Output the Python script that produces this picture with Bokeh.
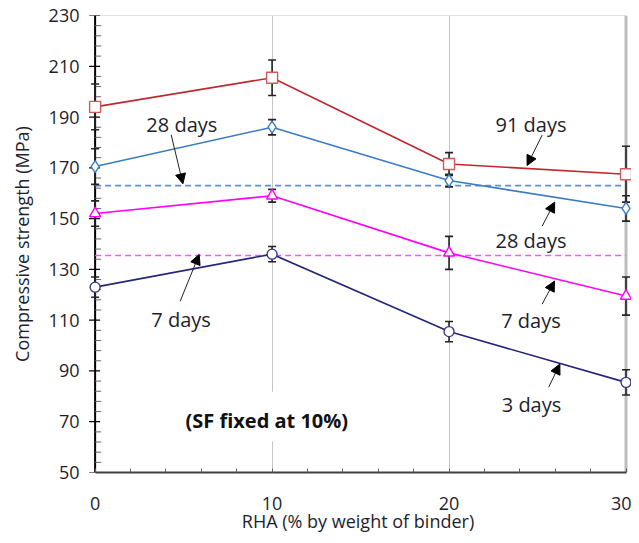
from bokeh.plotting import figure
from bokeh.models import Range1d, FixedTicker, Label, Arrow, NormalHead, Span, BoxAnnotation
from bokeh.embed import file_html
from bokeh.resources import INLINE

# ---- data ----
rha = [0, 10, 20, 30]
d91 = [194, 205.5, 171.5, 167.5]
d28 = [170.5, 186, 165, 154]
d7 = [152, 159, 136.5, 119.5]
d3 = [123, 136, 105.5, 85.5]
e91 = [9, 7, 4.5, 11]
e28 = [7, 3, 2.5, 5]
e7 = [5, 2.5, 6.5, 7.5]
e3 = [4, 3, 4, 5]
ref28 = 163
ref7 = 135.5
x_ticks = [0, 10, 20, 30]
x_minor = [2, 4, 6, 8, 12, 14, 16, 18, 22, 24, 26, 28]
y_ticks = [50, 70, 90, 110, 130, 150, 170, 190, 210, 230]
y_minor = [v for v in range(54, 230, 4) if v not in y_ticks]

# annotation texts and anchors
ann_text = ["28 days", "91 days", "28 days", "7 days", "7 days", "3 days"]
ann_x = [4.9, 24.63, 24.63, 4.86, 24.63, 24.66]
ann_y = [186.9, 186.9, 141.5, 110.4, 109.7, 76.8]
arr_x0 = [4.30, 25.26, 25.26, 4.81, 25.26, 25.63]
arr_y0 = [183.0, 182.9, 147.0, 117.5, 116.3, 83.6]
arr_x1 = [4.96, 24.41, 25.97, 5.88, 25.96, 26.26]
arr_y1 = [163.7, 170.9, 156.5, 135.9, 125.4, 92.7]

FONT = "Open Sans"
TXT = "#1e1e2e"

p = figure(width=631, height=535, x_range=Range1d(-0.6, 30.31), y_range=Range1d(50, 230),
           output_backend="svg", toolbar_location=None,
           min_border_left=84, min_border_right=0, min_border_top=15, min_border_bottom=61)
p.outline_line_color = None
p.background_fill_color = "white"
p.border_fill_color = "white"

# grid
p.ygrid.visible = False
p.xgrid.ticker = FixedTicker(ticks=[10, 20])
p.xgrid.grid_line_color = "#c4c4c4"
p.xgrid.grid_line_width = 1
p.add_layout(Span(location=30, dimension="height", line_color="#bdbdbd", line_width=3, level="underlay"))
p.line([rha[0], rha[-1]], [y_ticks[-1], y_ticks[-1]], line_color="#c4c4c4", line_width=1.2)

# x axis
xa = p.xaxis[0]
xa.ticker = FixedTicker(ticks=x_ticks, minor_ticks=x_minor)
xa.bounds = (0, 30)
xa.axis_line_color = "#404040"
xa.axis_line_width = 2
xa.major_tick_in = 4
xa.major_tick_out = 0
xa.minor_tick_in = 4
xa.minor_tick_out = 0
xa.major_tick_line_color = "#606060"
xa.minor_tick_line_color = "#606060"
xa.major_label_standoff = 24
xa.major_label_text_font = FONT
xa.major_label_text_font_size = "18px"
xa.major_label_text_color = TXT
xa.axis_label = "RHA (% by weight of binder)"
xa.axis_label_text_font = FONT
xa.axis_label_text_font_style = "normal"
xa.axis_label_text_font_size = "18px"
xa.axis_label_text_color = TXT
xa.axis_label_standoff = -4

# y axis (labels from bokeh axis, line and ticks drawn at x=0)
ya = p.yaxis[0]
ya.ticker = FixedTicker(ticks=y_ticks)
ya.axis_line_color = None
ya.major_tick_line_color = None
ya.minor_tick_line_color = None
ya.major_tick_in = 0
ya.major_tick_out = 0
ya.minor_tick_in = 0
ya.minor_tick_out = 0
ya.major_label_standoff = 5
ya.major_label_text_font = FONT
ya.major_label_text_font_size = "18px"
ya.major_label_text_color = TXT
ya.axis_label = "Compressive strength (MPa)"
ya.axis_label_text_font = FONT
ya.axis_label_text_font_style = "normal"
ya.axis_label_text_font_size = "18px"
ya.axis_label_text_color = TXT
ya.axis_label_standoff = 12

x0 = rha[0]
p.segment(x0=[x0], y0=[y_ticks[0]], x1=[x0], y1=[y_ticks[-1]], line_color="black", line_width=2)
p.segment(x0=[x0 - 0.34] * len(y_ticks), y0=y_ticks, x1=[x0 + 0.28] * len(y_ticks), y1=y_ticks,
          line_color="black", line_width=1.2)
p.segment(x0=[x0] * len(y_minor), y0=y_minor, x1=[x0 + 0.34] * len(y_minor), y1=y_minor,
          line_color="#666666", line_width=1)

# reference dashed lines
p.line([rha[0], rha[-1]], [ref28, ref28], line_color="#5b8fd9", line_width=1.6, line_dash="6 4")
p.line([rha[0], rha[-1]], [ref7, ref7], line_color="#ff55ff", line_width=1.6, line_dash="6 4")

series = [
    (d91, e91, "#c0282d", "#d05a5a", "square", 11),
    (d28, e28, "#3a7cc4", "#3a7cc4", "diamond", 12),
    (d7, e7, "#ff00ff", "#ff00ff", "triangle", 11),
    (d3, e3, "#25257a", "#3a3a8a", "circle", 10),
]

# error bars first (behind markers)
for ys, es, c, mc, m, s in series:
    lo = [y - e for y, e in zip(ys, es)]
    hi = [y + e for y, e in zip(ys, es)]
    p.segment(x0=rha, y0=lo, x1=rha, y1=hi, line_color="#222222", line_width=1.6)
    p.scatter(rha, lo, marker="dash", size=8, line_color="#222222", line_width=1.6)
    p.scatter(rha, hi, marker="dash", size=8, line_color="#222222", line_width=1.6)

for ys, es, c, mc, m, s in series:
    p.line(rha, ys, line_color=c, line_width=1.6)
    p.scatter(rha, ys, marker=m, size=s, fill_color="white", line_color=mc, line_width=1.4)

# annotations
for t, x, y in zip(ann_text, ann_x, ann_y):
    p.add_layout(Label(x=x, y=y, text=t, text_font=FONT, text_font_size="20px",
                       text_color=TXT, text_align="center", text_baseline="middle"))
for xs, ys_, xe, ye in zip(arr_x0, arr_y0, arr_x1, arr_y1):
    p.add_layout(Arrow(x_start=xs, y_start=ys_, x_end=xe, y_end=ye, line_color="#222222", line_width=1,
                       end=NormalHead(size=10, fill_color="black", line_color="black", line_width=1)))

p.add_layout(BoxAnnotation(left=4.7, right=14.7, bottom=62.2, top=81.8, fill_color="white", fill_alpha=1,
                           line_color=None, level="underlay"))
p.add_layout(Label(x=9.7, y=70.5, text="(SF fixed at 10%)", text_font=FONT, text_font_size="20px",
                   text_font_style="bold", text_color="#111111", text_align="center", text_baseline="middle"))

open("out.html", "w").write(file_html(p, INLINE))
